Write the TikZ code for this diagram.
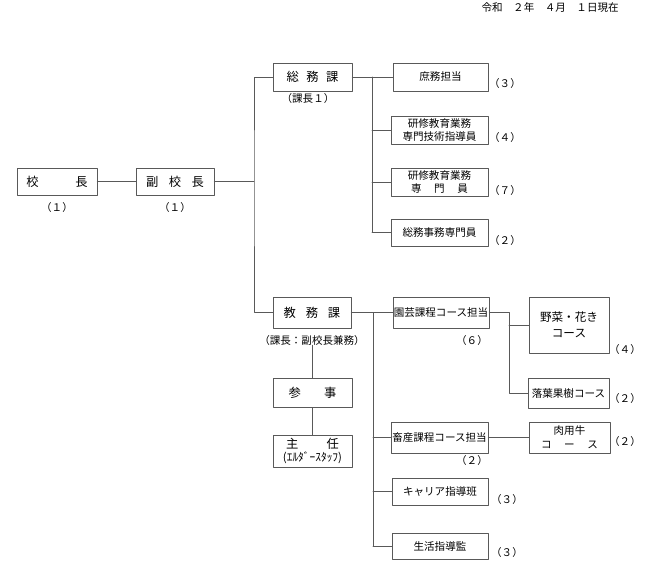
\documentclass[tikz,border=0pt]{standalone}
\usepackage{fontspec}
\setmainfont{Noto Sans CJK JP}

\begin{document}
\begin{tikzpicture}[x=0.02cm,y=-0.02cm,line cap=round,line join=round,
  box/.style={draw=black!65,line width=0.5pt,inner sep=0pt,align=center,
    minimum width=1.92cm,minimum height=0.56cm,font=\fontsize{6}{7.8}\selectfont},
  head/.style={box,minimum width=1.58cm,font=\fontsize{7}{8}\selectfont},
  cnt/.style={inner sep=0pt,font=\fontsize{6}{7}\selectfont},
  link/.style={draw=black!65,line width=0.5pt}]
  \useasboundingbox (0,0) rectangle (650,572);
  \node[cnt,anchor=east] (date) at (619,8) {令和　２年　４月　１日現在};

  % top of the tree
  \node[head,minimum width=1.60cm,minimum height=0.54cm] (kocho) at (57,181.5) {校\hspace{3em}長};
  \node[head,minimum width=1.56cm,minimum height=0.54cm] (fuku) at (175,181.5) {副\hspace{0.85em}校\hspace{0.85em}長};
  \node[cnt] (kochoN) at (57,207) {（１）};
  \node[cnt] (fukuN) at (175,207) {（１）};

  % sections
  \node[head] (somu) at (312.5,77) {総\hspace{0.6em}務\hspace{0.6em}課};
  \node[cnt] (somuL) at (308,98) {（課長１）};
  \node[head,minimum width=1.56cm,minimum height=0.62cm] (kyomu) at (312,312.5) {教\hspace{0.8em}務\hspace{0.8em}課};
  \node[cnt] (kyomuL) at (312,340) {（課長：副校長兼務）};
  \node[head,minimum height=0.58cm] (sanji) at (312.5,392.5) {参\hspace{1.9em}事};
  \node[head,minimum height=0.64cm] (shunin) at (312.5,451) {主\hspace{2.3em}任\\[-1pt]{\fontsize{6.5}{7}\selectfont (ｴﾙﾀﾞｰｽﾀｯﾌ)}};

  % somu staff
  \node[box,minimum width=1.90cm] (shomu) at (440.5,77) {庶務担当};
  \node[box,minimum width=1.94cm] (kenA) at (439.5,130) {研修教育業務\\専門技術指導員};
  \node[box,minimum width=1.94cm] (kenB) at (439.5,182) {研修教育業務\\専\hspace{1.2em}門\hspace{1.2em}員};
  \node[box,minimum width=1.94cm,minimum height=0.54cm] (jimu) at (439.5,232.5) {総務事務専門員};
  \node[cnt] (shomuN) at (505,83) {（３）};
  \node[cnt] (kenAN) at (505,137) {（４）};
  \node[cnt] (kenBN) at (505,190) {（７）};
  \node[cnt] (jimuN) at (505,240) {（２）};

  % kyomu staff
  \node[box,minimum height=0.62cm] (engei) at (441,312.5) {園芸課程コース担当};
  \node[box,minimum width=1.94cm,minimum height=0.62cm] (chiku) at (439.5,437.5) {畜産課程コース担当};
  \node[box,minimum height=0.54cm] (career) at (440,491.5) {キャリア指導班};
  \node[box,minimum height=0.52cm] (seikatsu) at (440,546) {生活指導監};
  \node[cnt] (engeiN) at (472,340) {（６）};
  \node[cnt] (chikuN) at (472,460) {（２）};
  \node[cnt] (careerN) at (507,499) {（３）};
  \node[cnt] (seikatsuN) at (507,552) {（３）};

  % courses
  \node[box,minimum width=1.60cm,minimum height=1.12cm,font=\fontsize{6.6}{9}\selectfont] (yasai) at (569,325) {野菜・花き\\コース};
  \node[box,minimum width=1.62cm,minimum height=0.60cm] (rakuyo) at (568.5,393) {落葉果樹コース};
  \node[box,minimum width=1.62cm,minimum height=0.62cm] (niku) at (569.5,437.5) {肉用牛\\コ\hspace{1.2em}ー\hspace{1.2em}ス};
  \node[cnt] (yasaiN) at (625,349) {（４）};
  \node[cnt] (rakuyoN) at (625,398) {（２）};
  \node[cnt] (nikuN) at (625,441) {（２）};

  % connectors
  \coordinate (t1) at (254,181.5);
  \coordinate (b1) at (372,77);
  \coordinate (b2) at (373,312.5);
  \coordinate (b3) at (509,312.5);
  \draw[link] (kocho) -- (fuku);
  \draw[link] (fuku) -- (t1);
  \draw[link] (somu.west) -| (t1) |- (kyomu.west);
  \draw[link] (somu) -- (shomu);
  \draw[link] (b1) -- (b1 |- jimu.west);
  \foreach \n in {kenA,kenB,jimu} {
    \draw[link] (b1 |- \n.west) -- (\n.west);
  }
  \draw[link] (kyomu) -- (engei);
  \draw[link] (b2) -- (b2 |- seikatsu.west);
  \foreach \n in {chiku,career,seikatsu} {
    \draw[link] (b2 |- \n.west) -- (\n.west);
  }
  \draw[link] (engei.east) -- (b3) |- (rakuyo.west);
  \draw[link] (b3 |- yasai.west) -- (yasai.west);
  \draw[link] (chiku) -- (niku);
  \draw[link] (sanji.north |- kyomuL.south) -- (sanji.north);
  \draw[link] (sanji) -- (shunin);
\end{tikzpicture}
\end{document}
